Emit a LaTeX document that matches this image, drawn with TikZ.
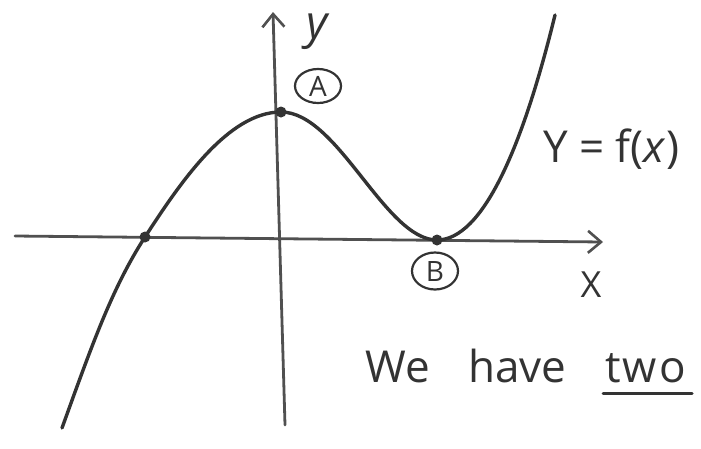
\documentclass[tikz,border=0pt]{standalone}
\usepackage{fontspec}
\setmainfont{Open Sans}
\usetikzlibrary{arrows.meta,shapes.geometric}
\definecolor{pencil}{HTML}{333333}
\definecolor{pencilaxis}{HTML}{505050}
\tikzset{
  axisline/.style={draw=pencilaxis, line width=2.8pt, line cap=round, -{Straight Barb[length=13pt,width=22pt,line width=2.6pt]}},
  curveline/.style={draw=pencil, line width=3.4pt, line cap=round},
  dotpt/.style={circle, fill=pencil, inner sep=0pt, minimum size=11pt},
  circlabel/.style={ellipse, draw=pencil, line width=2.2pt, inner sep=0pt, minimum width=46pt, minimum height=34pt, text=pencil, font=\fontsize{28}{30}\selectfont},
  handtext/.style={text=pencil, inner sep=0pt, font=\fontsize{44}{46}\selectfont\addfontfeatures{Weight=Light}},
}
\begin{document}
\begin{tikzpicture}[x=1pt,y=-1pt]
\useasboundingbox (0,0) rectangle (701,448);
% axes
\coordinate (xs) at (15,236);
\coordinate (xe) at (603,242);
\coordinate (ys) at (285,425);
\coordinate (ye) at (273,12);
\draw[axisline] (xs) -- (xe);
\draw[axisline] (ys) -- (ye);
% curve
\coordinate (c0) at (62,428);
\coordinate (c1) at (145,237);
\coordinate (c2) at (281,112);
\coordinate (c3) at (437,240);
\coordinate (c4) at (555,15);
\draw[curveline] (c0) .. controls (92,345) and (112,288) .. (c1)
  .. controls (180,183) and (228,112) .. (c2)
  .. controls (338,112) and (385,240) .. (c3)
  .. controls (482,240) and (522,150) .. (c4);
\node[dotpt] (p1) at (c1) {};
\node[dotpt] (p2) at (c2) {};
\node[dotpt] (p3) at (c3) {};
% labels
\node[handtext, font=\fontsize{46}{48}\selectfont\itshape] (ylab) at (317,32) {y};
\node[circlabel] (A) at (318,86) {A};
\node[circlabel, minimum height=37pt] (B) at (435,271) {B};
\node[handtext, font=\fontsize{36}{38}\selectfont\addfontfeatures{Weight=Light}] (xlab) at (591,285) {X};
\node[handtext, anchor=base west] (feq) at (543,162) {Y = f(\textit{x})};
\node[handtext, anchor=base west] (we) at (365,382) {We};
\node[handtext, anchor=base west] (have) at (468,382) {have};
\node[handtext, anchor=base west, font=\fontsize{44}{46}\selectfont\addfontfeatures{Weight=Light,LetterSpace=5}] (two) at (605,382) {two};
\coordinate (ul1) at (603,393);
\coordinate (ul2) at (692,393);
\draw[draw=pencil, line width=3pt, line cap=round] (ul1) -- (ul2);
\end{tikzpicture}
\end{document}
